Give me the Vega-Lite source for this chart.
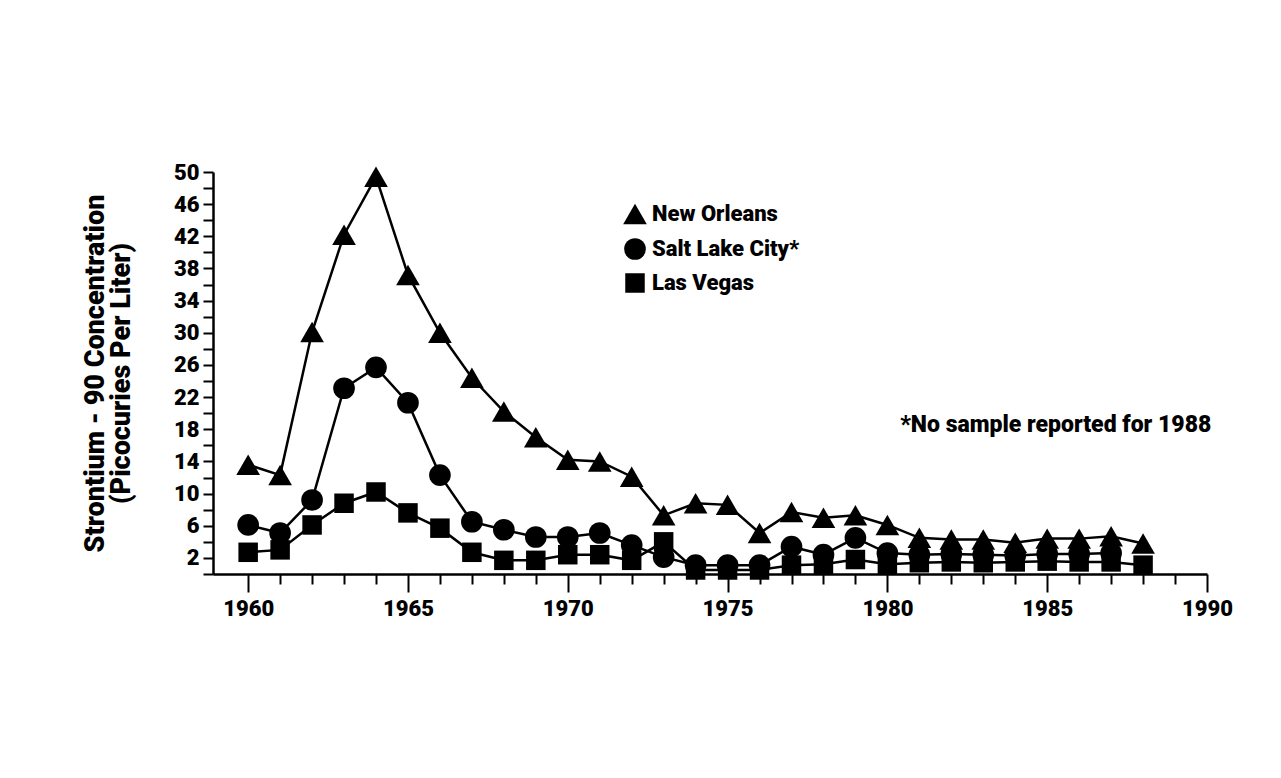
{
  "$schema": "https://vega.github.io/schema/vega-lite/v6.json",
  "autosize": "none",
  "padding": {"left": 213, "top": 172, "right": 74, "bottom": 204},
  "width": 994,
  "height": 402,
  "background": "white",
  "config": {
    "view": {"stroke": null},
    "font": "Roboto",
    "axis": {
      "labelFont": "Roboto",
      "labelFontWeight": 900,
      "labelFontSize": 22,
      "labelColor": "black",
      "domainColor": "black",
      "domainWidth": 2.5,
      "tickColor": "black",
      "tickWidth": 2,
      "grid": false,
      "titleFont": "Roboto",
      "titleFontWeight": 900,
      "titleFontSize": 27,
      "titleColor": "black"
    }
  },
  "datasets": {
    "sr90": [
      {"year": 1960, "city": "New Orleans", "value": 13.6},
      {"year": 1961, "city": "New Orleans", "value": 12.3},
      {"year": 1962, "city": "New Orleans", "value": 30.1},
      {"year": 1963, "city": "New Orleans", "value": 42.2},
      {"year": 1964, "city": "New Orleans", "value": 49.4},
      {"year": 1965, "city": "New Orleans", "value": 37.2},
      {"year": 1966, "city": "New Orleans", "value": 30.0},
      {"year": 1967, "city": "New Orleans", "value": 24.4},
      {"year": 1968, "city": "New Orleans", "value": 20.2},
      {"year": 1969, "city": "New Orleans", "value": 17.0},
      {"year": 1970, "city": "New Orleans", "value": 14.2},
      {"year": 1971, "city": "New Orleans", "value": 14.0},
      {"year": 1972, "city": "New Orleans", "value": 12.1},
      {"year": 1973, "city": "New Orleans", "value": 7.3},
      {"year": 1974, "city": "New Orleans", "value": 8.8},
      {"year": 1975, "city": "New Orleans", "value": 8.6},
      {"year": 1976, "city": "New Orleans", "value": 5.1},
      {"year": 1977, "city": "New Orleans", "value": 7.7},
      {"year": 1978, "city": "New Orleans", "value": 7.0},
      {"year": 1979, "city": "New Orleans", "value": 7.3},
      {"year": 1980, "city": "New Orleans", "value": 6.1},
      {"year": 1981, "city": "New Orleans", "value": 4.5},
      {"year": 1982, "city": "New Orleans", "value": 4.3},
      {"year": 1983, "city": "New Orleans", "value": 4.3},
      {"year": 1984, "city": "New Orleans", "value": 3.9},
      {"year": 1985, "city": "New Orleans", "value": 4.4},
      {"year": 1986, "city": "New Orleans", "value": 4.4},
      {"year": 1987, "city": "New Orleans", "value": 4.7},
      {"year": 1988, "city": "New Orleans", "value": 3.8},
      {"year": 1960, "city": "Salt Lake City", "value": 6.1},
      {"year": 1961, "city": "Salt Lake City", "value": 5.1},
      {"year": 1962, "city": "Salt Lake City", "value": 9.2},
      {"year": 1963, "city": "Salt Lake City", "value": 23.1},
      {"year": 1964, "city": "Salt Lake City", "value": 25.7},
      {"year": 1965, "city": "Salt Lake City", "value": 21.3},
      {"year": 1966, "city": "Salt Lake City", "value": 12.3},
      {"year": 1967, "city": "Salt Lake City", "value": 6.5},
      {"year": 1968, "city": "Salt Lake City", "value": 5.5},
      {"year": 1969, "city": "Salt Lake City", "value": 4.6},
      {"year": 1970, "city": "Salt Lake City", "value": 4.6},
      {"year": 1971, "city": "Salt Lake City", "value": 5.1},
      {"year": 1972, "city": "Salt Lake City", "value": 3.6},
      {"year": 1973, "city": "Salt Lake City", "value": 2.1},
      {"year": 1974, "city": "Salt Lake City", "value": 1.1},
      {"year": 1975, "city": "Salt Lake City", "value": 1.1},
      {"year": 1976, "city": "Salt Lake City", "value": 1.1},
      {"year": 1977, "city": "Salt Lake City", "value": 3.4},
      {"year": 1978, "city": "Salt Lake City", "value": 2.4},
      {"year": 1979, "city": "Salt Lake City", "value": 4.5},
      {"year": 1980, "city": "Salt Lake City", "value": 2.6},
      {"year": 1981, "city": "Salt Lake City", "value": 2.4},
      {"year": 1982, "city": "Salt Lake City", "value": 2.5},
      {"year": 1983, "city": "Salt Lake City", "value": 2.4},
      {"year": 1984, "city": "Salt Lake City", "value": 2.3},
      {"year": 1985, "city": "Salt Lake City", "value": 2.5},
      {"year": 1986, "city": "Salt Lake City", "value": 2.5},
      {"year": 1987, "city": "Salt Lake City", "value": 2.6},
      {"year": 1960, "city": "Las Vegas", "value": 2.7},
      {"year": 1961, "city": "Las Vegas", "value": 3.0},
      {"year": 1962, "city": "Las Vegas", "value": 6.1},
      {"year": 1963, "city": "Las Vegas", "value": 8.8},
      {"year": 1964, "city": "Las Vegas", "value": 10.2},
      {"year": 1965, "city": "Las Vegas", "value": 7.6},
      {"year": 1966, "city": "Las Vegas", "value": 5.7},
      {"year": 1967, "city": "Las Vegas", "value": 2.7},
      {"year": 1968, "city": "Las Vegas", "value": 1.7},
      {"year": 1969, "city": "Las Vegas", "value": 1.7},
      {"year": 1970, "city": "Las Vegas", "value": 2.4},
      {"year": 1971, "city": "Las Vegas", "value": 2.4},
      {"year": 1972, "city": "Las Vegas", "value": 1.7},
      {"year": 1973, "city": "Las Vegas", "value": 4.0},
      {"year": 1974, "city": "Las Vegas", "value": 0.5},
      {"year": 1975, "city": "Las Vegas", "value": 0.5},
      {"year": 1976, "city": "Las Vegas", "value": 0.5},
      {"year": 1977, "city": "Las Vegas", "value": 1.1},
      {"year": 1978, "city": "Las Vegas", "value": 1.2},
      {"year": 1979, "city": "Las Vegas", "value": 1.8},
      {"year": 1980, "city": "Las Vegas", "value": 1.2},
      {"year": 1981, "city": "Las Vegas", "value": 1.4},
      {"year": 1982, "city": "Las Vegas", "value": 1.5},
      {"year": 1983, "city": "Las Vegas", "value": 1.4},
      {"year": 1984, "city": "Las Vegas", "value": 1.5},
      {"year": 1985, "city": "Las Vegas", "value": 1.6},
      {"year": 1986, "city": "Las Vegas", "value": 1.5},
      {"year": 1987, "city": "Las Vegas", "value": 1.5},
      {"year": 1988, "city": "Las Vegas", "value": 1.1}
    ],
    "note": [
      {"year": 1980.4, "value": 18.5, "label": "*No sample reported for 1988"}
    ]
  },
  "encoding": {
    "x": {
      "field": "year", "type": "quantitative",
      "scale": {"domain": [1958.9, 1990], "nice": false, "zero": false},
      "axis": {
        "title": null,
        "values": [1960,1961,1962,1963,1964,1965,1966,1967,1968,1969,1970,1971,1972,1973,1974,1975,1976,1977,1978,1979,1980,1981,1982,1983,1984,1985,1986,1987,1988,1989,1990],
        "labelExpr": "datum.value % 5 === 0 ? datum.value + '' : ''",
        "tickSize": {"condition": {"test": "datum.value % 5 === 0", "value": 18}, "value": 10},
        "labelPadding": 6,
        "labelFlush": false,
        "labelOverlap": false
      }
    },
    "y": {
      "field": "value", "type": "quantitative",
      "scale": {"domain": [0, 50], "nice": false},
      "axis": {
        "title": ["Strontium - 90 Concentration", "(Picocuries Per Liter)"],
        "titlePadding": 38,
        "titleLineHeight": 26,
        "values": [0,2,4,6,8,10,12,14,16,18,20,22,24,26,28,30,32,34,36,38,40,42,44,46,48,50],
        "labelExpr": "datum.value % 4 === 2 ? datum.value + '' : ''",
        "tickSize": 10,
        "labelPadding": 4,
        "labelOverlap": false,
        "labelFlush": false
      }
    }
  },
  "layer": [
    {
      "data": {"name": "sr90"},
      "mark": {"type": "line", "color": "black", "strokeWidth": 2.5},
      "encoding": {
        "detail": {"field": "city", "type": "nominal"}
      }
    },
    {
      "data": {"name": "sr90"},
      "mark": {"type": "point", "filled": true, "color": "black", "opacity": 1},
      "encoding": {
        "shape": {
          "field": "city", "type": "nominal",
          "scale": {"domain": ["New Orleans", "Salt Lake City", "Las Vegas"], "range": ["triangle-up", "circle", "square"]},
          "legend": {
            "title": null,
            "orient": "none",
            "legendX": 409,
            "legendY": 29,
            "labelExpr": "datum.label === 'Salt Lake City' ? 'Salt Lake City*' : datum.label",
            "labelFont": "Roboto",
            "labelFontWeight": 900,
            "labelFontSize": 22,
            "labelLimit": 400,
            "labelOffset": 4,
            "labelColor": "black",
            "symbolFillColor": "black",
            "symbolStrokeColor": "black",
            "symbolOpacity": 1,
            "rowPadding": 7
          }
        },
        "size": {
          "field": "city", "type": "nominal",
          "scale": {"domain": ["New Orleans", "Salt Lake City", "Las Vegas"], "range": [560, 380, 340]},
          "legend": {
            "title": null,
            "orient": "none",
            "legendX": 409,
            "legendY": 29,
            "labelExpr": "datum.label === 'Salt Lake City' ? 'Salt Lake City*' : datum.label",
            "labelFont": "Roboto",
            "labelFontWeight": 900,
            "labelFontSize": 22,
            "labelLimit": 400,
            "labelOffset": 4,
            "labelColor": "black",
            "symbolFillColor": "black",
            "symbolStrokeColor": "black",
            "symbolOpacity": 1,
            "rowPadding": 7
          }
        }
      }
    },
    {
      "data": {"name": "note"},
      "mark": {"type": "text", "align": "left", "baseline": "middle", "fontSize": 23, "fontWeight": 900, "color": "black", "font": "Roboto"},
      "encoding": {
        "text": {"field": "label"}
      }
    }
  ]
}
